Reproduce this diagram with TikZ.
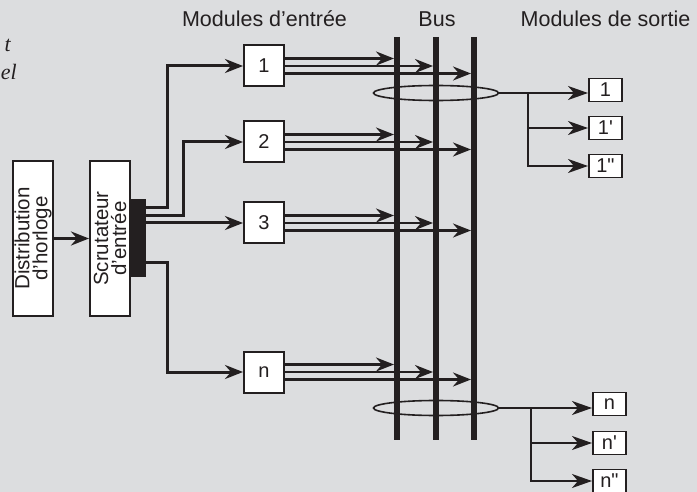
\documentclass[tikz,border=0pt]{standalone}
\usepackage{fontspec}
\setmainfont{Liberation Sans}
\newfontfamily\boxfont{Liberation Sans}
\newfontfamily\fragfont{Liberation Serif}
\usetikzlibrary{positioning,arrows.meta,calc,shapes.geometric}
\definecolor{bg}{HTML}{DCDDDF}
\definecolor{ink}{HTML}{231F20}

\begin{document}
\begin{tikzpicture}[
    x=1pt, y=-1pt,
    every node/.style={font=\fontsize{20}{20}\selectfont, text=ink},
    >={Stealth[length=18pt, width=14pt, inset=6pt]},
    tallbox/.style={draw=ink, fill=white, line width=2pt, rotate=90, align=center,
                    minimum width=155pt, minimum height=40pt, inner sep=0pt,
                    font=\fontsize{20.5}{18}\selectfont},
    modbox/.style={draw=ink, fill=white, line width=2pt, minimum width=40pt,
                   minimum height=41pt, inner sep=0pt},
    outbox/.style={draw=ink, fill=white, line width=1.8pt, minimum width=33pt,
                   minimum height=23pt, inner sep=0pt, anchor=west,
                   font=\boxfont\fontsize{20}{20}\selectfont},
    conn/.style={draw=ink, line width=3pt, ->},
    busline/.style={draw=ink, line width=6pt},
    tap/.style={draw=ink, line width=1.7pt, -{Stealth[length=20pt, width=14pt, inset=6pt]}},
    ring/.style={draw=ink, ellipse, line width=1.6pt, minimum width=125pt,
                 minimum height=15pt, inner sep=0pt},
    head/.style={anchor=base, font=\fontsize{21.5}{21.5}\selectfont},
    frag/.style={anchor=base east, inner sep=0pt,
                 font=\fragfont\itshape\fontsize{22}{22}\selectfont}
]
  \fill[bg] (0,0) rectangle (697,492);
  \useasboundingbox (0,0) rectangle (697,492);

  % titles
  \node[head] (hin) at (264.5,27) {Modules d'entrée};
  \node[head] (hbus) at (437,27) {Bus};
  \node[head] (hout) at (605.5,27) {Modules de sortie};
  \node[frag] (frag1) at (11,52) {t};
  \node[frag] (frag2) at (17,80) {el};

  % clock and scanner
  \node[tallbox] (clock) at (33,238.5) {Distribution\\d'horloge};
  \node[tallbox] (scan) at (110,238.5) {Scrutateur\\d'entrée};
  \node[fill=ink, minimum width=15pt, minimum height=78pt, inner sep=0pt,
        anchor=west] (bar) at (scan.south) {};
  \draw[conn] (clock) -- (scan);

  % input modules
  \node[modbox] (m1) at (264,66) {1};
  \node[modbox] (m2) at (264,142) {2};
  \node[modbox] (m3) at (264,223) {3};
  \node[modbox] (mn) at (264,372) {n};

  \draw[conn] (bar.east |- 0,208) -- (167,208) |- (m1.west);
  \draw[conn] (bar.east |- 0,216) -- (183,216) |- (m2.west);
  \draw[conn] (bar.east |- m3.west) -- (m3.west);
  \draw[conn] (bar.east |- 0,263) -- (167,263) |- (mn.west);

  % bus
  \node[ring] (e1) at (436,93) {};
  \node[ring] (en) at (436,408) {};
  \foreach \n/\x in {1/397,2/436,3/474}
    \draw[busline] (\x,37) coordinate (top\n) -- (\x,440) coordinate (foot\n);

  \foreach \m in {m1,m2,m3,mn}
    \foreach \n/\dy in {1/7.5,2/0,3/-7.5} {
      \coordinate (src) at ([yshift=\dy pt]\m.east);
      \draw[conn, line width=2.6pt] (src) -- ($(src -| top\n)+(-3,0)$);
    }

  % output modules
  \node[outbox] (o1) at (588,90) {1};
  \node[outbox] (o1a) at (588,128) {1'};
  \node[outbox] (o1b) at (588,166) {1"};
  \coordinate (fork1) at (528,93);
  \draw[tap] (e1.east) -- (o1.west |- e1.east);
  \draw[tap] (fork1) |- (o1a.west);
  \draw[tap] (fork1) |- (o1b.west);

  \node[outbox] (on) at (592,404) {n};
  \node[outbox] (ona) at (592,443) {n'};
  \node[outbox] (onb) at (592,481) {n"};
  \coordinate (forkn) at (531,408);
  \draw[tap] (en.east) -- (on.west |- en.east);
  \draw[tap] (forkn) |- (ona.west);
  \draw[tap] (forkn) |- (onb.west);
\end{tikzpicture}
\end{document}
